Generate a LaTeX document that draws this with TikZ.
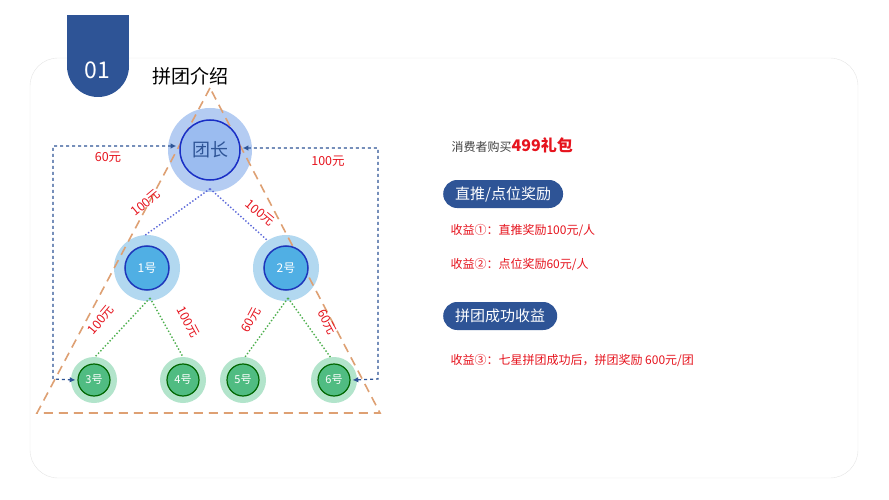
\documentclass[tikz,border=0pt]{standalone}
\usepackage{fontspec}
\setmainfont{Noto Sans CJK SC}
\usetikzlibrary{arrows.meta}
\definecolor{navy}{RGB}{46,84,150}
\definecolor{tri}{RGB}{222,160,115}
\definecolor{leadfill}{RGB}{155,188,240}
\definecolor{leadring}{RGB}{180,204,242}
\definecolor{midfill}{RGB}{80,175,228}
\definecolor{midring}{RGB}{178,216,240}
\definecolor{leaffill}{RGB}{80,188,130}
\definecolor{leafring}{RGB}{178,228,203}
\definecolor{money}{RGB}{230,20,30}
\tikzset{%
  >={Latex[width=2mm,length=2mm]},
  % Specifications for style of nodes:
        leadbox/.style = {circle, draw=blue!45!navy, line width=1.5pt, fill=leadfill,
                          minimum size=60pt, text=navy, font=\fontsize{18}{18}\selectfont},
         midbox/.style = {circle, draw=blue!35!navy, line width=1.5pt, fill=midfill,
                          minimum size=44pt, text=white, font=\fontsize{12}{12}\selectfont},
        leafbox/.style = {circle, draw=green!40!black, line width=1.2pt, fill=leaffill,
                          minimum size=32pt, text=white, font=\fontsize{11}{11}\selectfont},
          money/.style = {text=money, font=\fontsize{12.5}{12.5}\selectfont},
           pill/.style = {rectangle, rounded corners=14pt, fill=navy, text=white,
                          minimum height=28pt, inner xsep=12pt, font=\fontsize{15}{15}\selectfont},
           gain/.style = {anchor=west, text=money, font=\fontsize{12}{12}\selectfont},
}
\begin{document}
\begin{tikzpicture}[x=1pt, y=-1pt]
  \useasboundingbox (0,0) rectangle (889,500);
  % card and tab
  \draw[black!10, fill=white, rounded corners=28pt] (30,58) rectangle (858,478);
  \fill[navy] (67,15) rectangle (129,66);
  \fill[navy] (98,66) circle[radius=31];
  \node (tabno) at (97,70) [text=white, font=\fontsize{23}{23}\selectfont] {01};
  \node (title) [anchor=west, font=\fontsize{19}{19}\selectfont] at (149,76) {拼团介绍};

  % halo rings
  \fill[leadring] (210,150) circle[radius=42];
  \fill[midring] (147,268) circle[radius=33];
  \fill[midring] (286,268) circle[radius=33];
  \foreach \x in {94,183,243,334} \fill[leafring] (\x,380) circle[radius=23];

  % triangle
  \draw[tri, line width=1.6pt, dash pattern=on 9pt off 6pt] (210,88) -- (37,413) -- (380,413) -- cycle;

  \node (leader) [leadbox] at (210,150) {团长};
  \node (one)    [midbox]  at (147,268) {1号};
  \node (two)    [midbox]  at (286,268) {2号};
  \node (three)  [leafbox] at (94,380)  {3号};
  \node (four)   [leafbox] at (183,380) {4号};
  \node (five)   [leafbox] at (243,380) {5号};
  \node (six)    [leafbox] at (334,380) {6号};

  \draw[blue!50!navy!70, dotted, line width=1.4pt] (leader.south) ++(0,8) -- (144,236);
  \draw[blue!50!navy!70, dotted, line width=1.4pt] (leader.south) ++(0,8) -- (268,241);
  \draw[green!55!black!70, dotted, line width=1.4pt] (150,298) -- (95,357);
  \draw[green!55!black!70, dotted, line width=1.4pt] (150,298) -- (183,357);
  \draw[green!55!black!70, dotted, line width=1.4pt] (288,298) -- (245,357);
  \draw[green!55!black!70, dotted, line width=1.4pt] (288,298) -- (331,358);

  \coordinate (lefttop) at (53,146);
  \coordinate (leftbot) at (53,379);
  \coordinate (righttop) at (378,148);
  \coordinate (rightbot) at (378,379);
  \draw[<->, navy, dashed, line width=1.2pt] (leader.west) ++(-3,-4) -- (lefttop) -- (leftbot) -- ([xshift=-2pt]three.west);
  \draw[<->, navy, dashed, line width=1.2pt] (leader.east) ++(2,-2) -- (righttop) -- (rightbot) -- ([xshift=2pt]six.east);

  \node (lmoney)  [money] at (108,157) {60元};
  \node (rmoney)  [money] at (328,161) {100元};
  \node (m1) [money, rotate=40]  at (146,203) {100元};
  \node (m2) [money, rotate=-40] at (260,213) {100元};
  \node (m3) [money, rotate=50]  at (101,320) {100元};
  \node (m4) [money, rotate=-62] at (188,322) {100元};
  \node (m5) [money, rotate=62]  at (251,320) {60元};
  \node (m6) [money, rotate=-62] at (327,322) {60元};

  % right side texts
  \node (buy) [anchor=west, text=black!75, font=\fontsize{12}{12}\selectfont] at (448,145)
      {消费者购买\textcolor{money}{\fontsize{16}{16}\selectfont\bfseries 499礼包}};
  \node (direct) [pill, anchor=west] at (443,194) {直推/点位奖励};
  \node (gain1) [gain] at (447,230) {收益①：直推奖励100元/人};
  \node (gain2) [gain] at (447,264) {收益②：点位奖励60元/人};
  \node (group) [pill, anchor=west] at (443,316) {拼团成功收益};
  \node (gain3) [gain] at (447,360) {收益③：七星拼团成功后，拼团奖励 600元/团};
\end{tikzpicture}
\end{document}
